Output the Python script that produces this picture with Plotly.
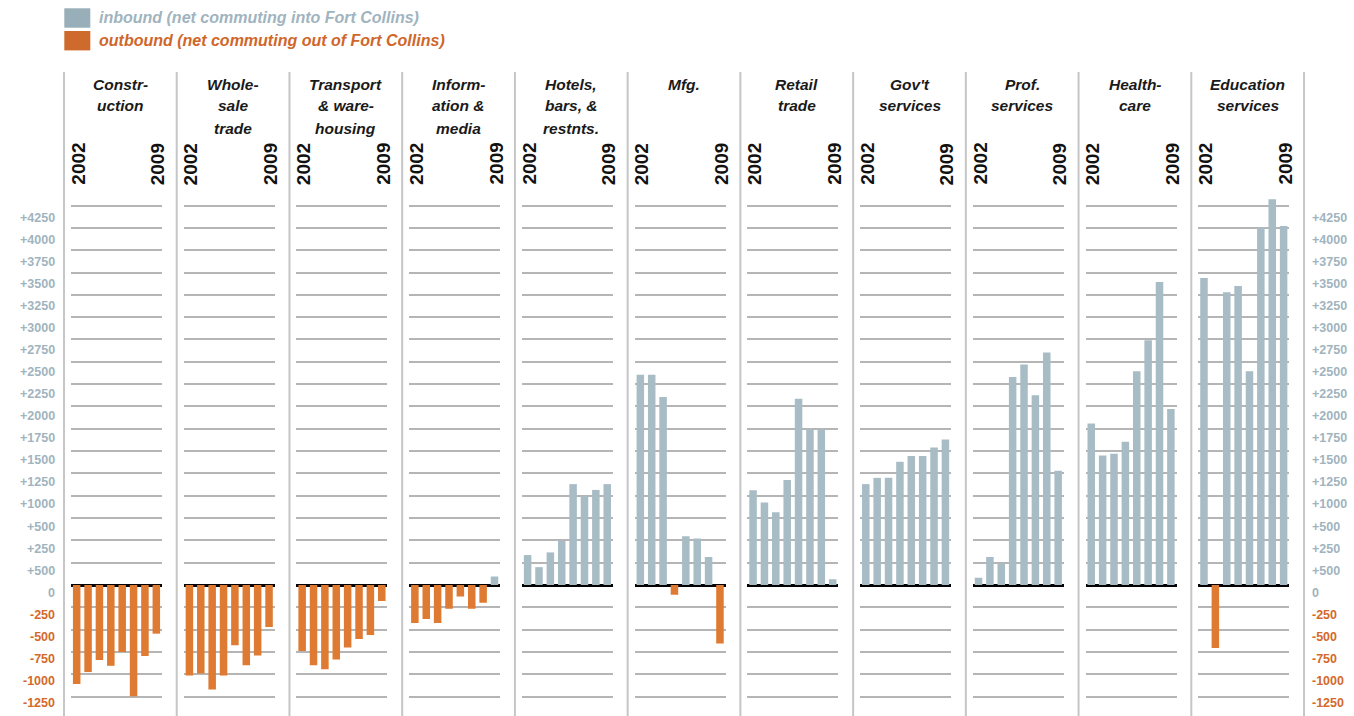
import plotly.graph_objects as go

W, H = 1354, 716

years = [2002, 2003, 2004, 2005, 2006, 2007, 2008, 2009]

sector_titles = [
    ["Constr-", "uction"],
    ["Whole-", "sale", "trade"],
    ["Transport", "& ware-", "housing"],
    ["Inform-", "ation &", "media"],
    ["Hotels,", "bars, &", "restnts."],
    ["Mfg."],
    ["Retail", "trade"],
    ["Gov't", "services"],
    ["Prof.", "services"],
    ["Health-", "care"],
    ["Education", "services"],
]

construction = [-1110, -975, -840, -905, -750, -1245, -795, -545]
wholesale = [-1015, -990, -1170, -1015, -675, -900, -790, -470]
transport = [-740, -900, -945, -835, -700, -605, -560, -180]
information = [-425, -380, -425, -265, -130, -265, -200, 95]
hotels = [335, 200, 365, 495, 1130, 1000, 1065, 1130]
mfg = [2355, 2355, 2105, -110, 545, 520, 315, -655]
retail = [1060, 925, 815, 1175, 2085, 1745, 1745, 65]
govt = [1130, 1200, 1200, 1380, 1445, 1445, 1540, 1630]
prof = [80, 315, 245, 2330, 2470, 2125, 2605, 1280]
health = [1810, 1450, 1470, 1605, 2395, 2740, 3395, 1970]
education = [3440, -705, 3280, 3350, 2395, 4005, 4320, 4020]

series = [construction, wholesale, transport, information, hotels, mfg,
          retail, govt, prof, health, education]

grid_values = list(range(-1250, 4251, 250))
side_labels = ["+4250", "+4000", "+3750", "+3500", "+3250", "+3000", "+2750",
               "+2500", "+2250", "+2000", "+1750", "+1500", "+1250", "+1000",
               "+500", "+250", "+500", "0", "-250", "-500", "-750", "-1000",
               "-1250"]

legend_labels = ["inbound (net commuting into Fort Collins)",
                 "outbound (net commuting out of Fort Collins)"]

BLUE = "#a7bcc5"
ORANGE = "#de7a31"
LBL_BLUE = "#9fb4be"
LBL_ORANGE = "#d4692a"
FONT = "Arial, Liberation Sans, sans-serif"

# pixel scale: baseline at y=585 px, 250 units = 22.32 px
k = 22.32 / 250.0
y_top = 585 / k
y_bot = -(H - 585) / k


def py(p):
    return 1 - p / H


def px(p):
    return p / W


fig = go.Figure()
layout = dict(
    width=W, height=H,
    margin=dict(l=0, r=0, t=0, b=0),
    paper_bgcolor="white", plot_bgcolor="white",
    showlegend=False,
    bargap=0.34,
    font=dict(family=FONT),
)
shapes = []
annotations = []

step = 112.73
for i, vals in enumerate(series):
    n = "" if i == 0 else str(i + 1)
    sep = 64 + step * i
    colors = [BLUE if v >= 0 else ORANGE for v in vals]
    fig.add_trace(go.Bar(
        x=years, y=vals, marker=dict(color=colors, line=dict(width=0)),
        xaxis="x" + n, yaxis="y" + n, hoverinfo="x+y",
    ))
    layout["xaxis" + n] = dict(
        domain=[px(sep + 7), px(sep + 98)], anchor="y" + n,
        range=[2001.5, 2009.5], showticklabels=False, showgrid=False,
        zeroline=False, showline=False, ticks="",
    )
    layout["yaxis" + n] = dict(
        domain=[0, 1], anchor="x" + n, range=[y_bot, y_top],
        tickvals=grid_values, showticklabels=False, showgrid=True,
        gridcolor="#b5b5b5", gridwidth=2,
        zeroline=True, zerolinecolor="#000000", zerolinewidth=3,
        showline=False, ticks="",
    )
    # titles
    for j, line in enumerate(sector_titles[i]):
        annotations.append(dict(
            text="<b><i>" + line + "</i></b>", xref="x" + n + " domain", x=0.5,
            xshift=4,
            yref="paper", y=py(84 + 22 * j), xanchor="center", yanchor="middle",
            showarrow=False, font=dict(size=15.5, color="#1a1a1a", family=FONT),
        ))
    # year labels
    for yr in (years[0], years[-1]):
        annotations.append(dict(
            text="<b>" + str(yr) + "</b>", xref="x" + n, x=yr, yref="paper",
            xshift=1,
            y=py(164), xanchor="center", yanchor="middle", textangle=-90,
            showarrow=False, font=dict(size=19, color="#111111", family=FONT),
        ))

# separators
for i in range(12):
    sep = 64 + step * i
    shapes.append(dict(type="line", xref="paper", yref="paper",
                       x0=px(sep), x1=px(sep), y0=0, y1=py(72),
                       line=dict(color="#c6c6c6", width=2)))

# side labels
for i, lab in enumerate(side_labels):
    col = LBL_ORANGE if lab.startswith("-") else LBL_BLUE
    ypix = 217.7 + 22.06 * i
    annotations.append(dict(text="<b>" + lab + "</b>", xref="paper", x=px(57),
                            yref="paper", y=py(ypix), xanchor="right",
                            yanchor="middle", showarrow=False,
                            font=dict(size=12.5, color=col, family=FONT)))
    annotations.append(dict(text="<b>" + lab + "</b>", xref="paper", x=px(1310),
                            yref="paper", y=py(ypix), xanchor="left",
                            yanchor="middle", showarrow=False,
                            font=dict(size=12.5, color=col, family=FONT)))

# legend
leg_sq = ["#98aeb8", "#cf6a2d"]
leg_txt = [LBL_BLUE, "#d0662a"]
for j, lab in enumerate(legend_labels):
    top = 8.3 + 22.7 * j
    shapes.append(dict(type="rect", xref="paper", yref="paper",
                       x0=px(64.3), x1=px(90.3), y0=py(top), y1=py(top + 19.4),
                       fillcolor=leg_sq[j], line=dict(width=0)))
    annotations.append(dict(text="<b><i>" + lab + "</i></b>", xref="paper",
                            x=px(97), yref="paper", y=py(17.5 + 23 * j),
                            xanchor="left", yanchor="middle", showarrow=False,
                            font=dict(size=16, color=leg_txt[j], family=FONT)))

layout["shapes"] = shapes
layout["annotations"] = annotations
fig.update_layout(**layout)
fig.write_html(
    "out.html",
    config={"displayModeBar": False},
    post_script="document.body.style.margin='0';document.body.style.padding='0';",
)
